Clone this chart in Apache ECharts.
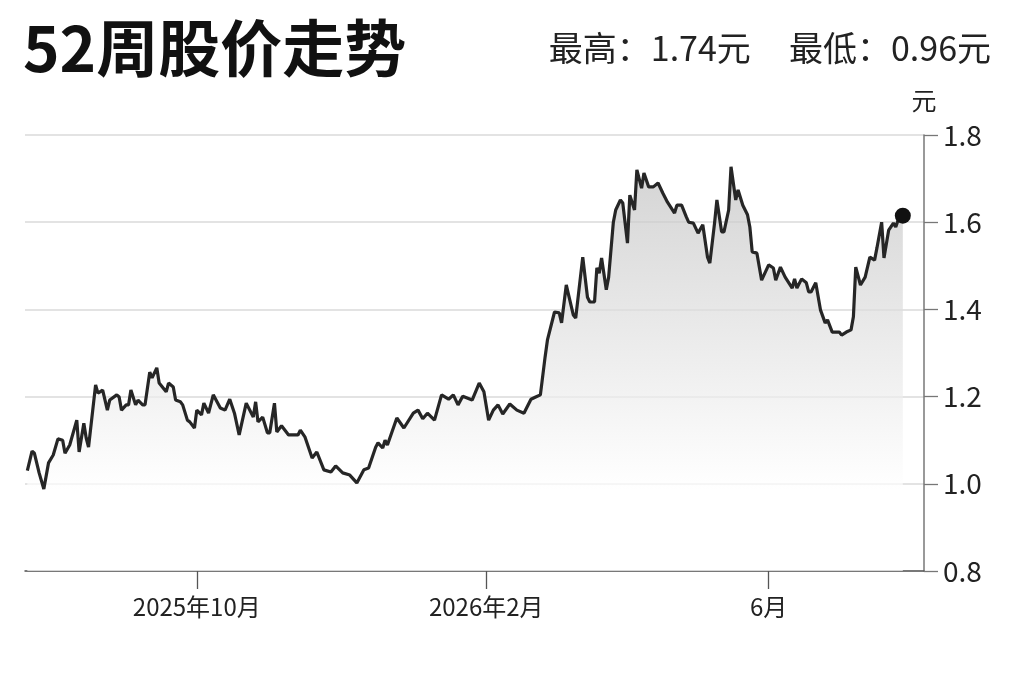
<!DOCTYPE html>
<html>
<head>
<meta charset="utf-8">
<script src="https://cdn.jsdelivr.net/npm/echarts@6/dist/echarts.min.js"></script>
<style>
html,body{margin:0;padding:0;background:#fff;}
#chart{width:1023px;height:682px;}
</style>
</head>
<body>
<div id="chart"></div>
<script>
const titleText = '52周股价走势';
const statsText = '最高：1.74元     最低：0.96元';
const yUnit = '元';
const yTicks = [0.8, 1.0, 1.2, 1.4, 1.6, 1.8];
const xTickDates = ['2025-10-01', '2026-02-01', '2026-06-01'];
const xTickLabels = ['2025年10月', '2026年2月', '6月'];
const xRange = ['2025-07-20', '2026-08-06'];

const dates = [
'2025-07-21','2025-07-23','2025-07-24','2025-07-26','2025-07-28','2025-07-30','2025-08-01','2025-08-03','2025-08-05','2025-08-06',
'2025-08-08','2025-08-11','2025-08-12','2025-08-14','2025-08-15','2025-08-16','2025-08-19','2025-08-20','2025-08-22','2025-08-24',
'2025-08-25','2025-08-28','2025-08-29','2025-08-30','2025-09-01','2025-09-02','2025-09-03','2025-09-05','2025-09-06','2025-09-08',
'2025-09-09','2025-09-11','2025-09-12','2025-09-14','2025-09-15','2025-09-18','2025-09-19','2025-09-21','2025-09-22','2025-09-24',
'2025-09-25','2025-09-27','2025-09-28','2025-09-30','2025-10-01','2025-10-03','2025-10-04','2025-10-06','2025-10-08','2025-10-11',
'2025-10-13','2025-10-15','2025-10-17','2025-10-19','2025-10-22','2025-10-25','2025-10-26','2025-10-27','2025-10-29','2025-10-31',
'2025-11-01','2025-11-03','2025-11-04','2025-11-06','2025-11-09','2025-11-13','2025-11-14','2025-11-16','2025-11-19','2025-11-21',
'2025-11-24','2025-11-27','2025-11-29','2025-12-02','2025-12-05','2025-12-08','2025-12-11','2025-12-13','2025-12-16','2025-12-17',
'2025-12-19','2025-12-20','2025-12-21','2025-12-25','2025-12-28','2026-01-01','2026-01-03','2026-01-05','2026-01-07','2026-01-10',
'2026-01-13','2026-01-16','2026-01-18','2026-01-20','2026-01-22','2026-01-26','2026-01-29','2026-01-31','2026-02-02','2026-02-04',
'2026-02-06','2026-02-08','2026-02-11','2026-02-14','2026-02-17','2026-02-20','2026-02-22','2026-02-24','2026-02-26','2026-02-27',
'2026-03-02','2026-03-04','2026-03-05','2026-03-07','2026-03-08','2026-03-10','2026-03-11','2026-03-14','2026-03-16','2026-03-17',
'2026-03-19','2026-03-20','2026-03-21','2026-03-22','2026-03-24','2026-03-25','2026-03-27','2026-03-28','2026-03-30','2026-03-31',
'2026-04-02','2026-04-03','2026-04-05','2026-04-06','2026-04-08','2026-04-09','2026-04-11','2026-04-13','2026-04-15','2026-04-17',
'2026-04-19','2026-04-22','2026-04-23','2026-04-25','2026-04-27','2026-04-28','2026-04-30','2026-05-02','2026-05-04','2026-05-06',
'2026-05-07','2026-05-09','2026-05-10','2026-05-12','2026-05-13','2026-05-15','2026-05-16','2026-05-18','2026-05-19','2026-05-21',
'2026-05-23','2026-05-24','2026-05-25','2026-05-27','2026-05-29','2026-06-01','2026-06-03','2026-06-04','2026-06-06','2026-06-08',
'2026-06-11','2026-06-12','2026-06-13','2026-06-15','2026-06-17','2026-06-18','2026-06-19','2026-06-21','2026-06-23','2026-06-25',
'2026-06-26','2026-06-28','2026-07-01','2026-07-02','2026-07-04','2026-07-06','2026-07-07','2026-07-08','2026-07-10','2026-07-12',
'2026-07-14','2026-07-16','2026-07-17','2026-07-19','2026-07-20','2026-07-22','2026-07-24','2026-07-25','2026-07-26','2026-07-28'
];

const prices = [
1.03,1.075,1.07,1.025,0.988,1.048,1.066,1.103,1.10,1.07,
1.089,1.146,1.073,1.139,1.105,1.084,1.227,1.208,1.215,1.169,
1.192,1.204,1.199,1.169,1.181,1.181,1.215,1.181,1.192,1.181,
1.181,1.256,1.243,1.266,1.231,1.211,1.231,1.222,1.192,1.188,
1.181,1.146,1.142,1.128,1.169,1.158,1.185,1.162,1.204,1.174,
1.169,1.194,1.162,1.112,1.185,1.153,1.188,1.142,1.153,1.117,
1.117,1.185,1.119,1.133,1.112,1.112,1.123,1.107,1.059,1.073,
1.032,1.027,1.041,1.025,1.020,1.002,1.032,1.036,1.084,1.094,
1.082,1.100,1.089,1.151,1.128,1.162,1.169,1.149,1.162,1.146,
1.204,1.194,1.204,1.181,1.201,1.192,1.231,1.211,1.146,1.169,
1.181,1.160,1.183,1.169,1.162,1.194,1.199,1.204,1.291,1.330,
1.394,1.392,1.369,1.456,1.433,1.387,1.380,1.520,1.428,1.417,
1.417,1.495,1.483,1.518,1.445,1.474,1.600,1.628,1.651,1.644,
1.552,1.662,1.628,1.720,1.678,1.713,1.681,1.681,1.690,1.667,
1.646,1.621,1.639,1.639,1.612,1.600,1.598,1.575,1.594,1.520,
1.506,1.598,1.651,1.578,1.578,1.628,1.727,1.651,1.674,1.639,
1.617,1.589,1.532,1.529,1.467,1.502,1.495,1.467,1.497,1.474,
1.449,1.470,1.449,1.470,1.461,1.440,1.440,1.461,1.399,1.369,
1.376,1.348,1.348,1.341,1.348,1.353,1.383,1.497,1.456,1.474,
1.520,1.513,1.541,1.600,1.518,1.582,1.598,1.589,1.605,1.615
];

const chart = echarts.init(document.getElementById('chart'), null, {renderer: 'canvas'});
const FONT = '"Noto Sans CJK SC", "Noto Sans", sans-serif';
const ts = d => +echarts.time.parse(d);
const tickTs = xTickDates.map(ts);
const lineData = dates.map((d, i) => [ts(d), prices[i]]);
const last = lineData[lineData.length - 1];

chart.setOption({
  backgroundColor: '#ffffff',
  animation: false,
  textStyle: {fontFamily: FONT},
  title: [
    {text: titleText, left: 18, top: 12,
     textStyle: {fontSize: 62, fontWeight: 'bold', color: '#111', fontFamily: FONT}},
    {text: statsText, right: 27, top: 26,
     textStyle: {fontSize: 34, fontWeight: 'normal', color: '#222', fontFamily: FONT}}
  ],
  grid: {left: 25, right: 99, top: 135, bottom: 111, containLabel: false},
  xAxis: {
    type: 'value',
    min: ts(xRange[0]),
    max: ts(xRange[1]),
    axisLine: {show: true, onZero: false, lineStyle: {color: '#555', width: 1.5}},
    axisTick: {show: true, customValues: tickTs, length: 18, lineStyle: {color: '#555', width: 1.3}},
    axisLabel: {
      customValues: tickTs,
      color: '#222', fontSize: 24, margin: 24, fontFamily: FONT,
      formatter: function (v) {
        const idx = tickTs.indexOf(v);
        return idx >= 0 ? xTickLabels[idx] : '';
      }
    },
    splitLine: {show: false}
  },
  yAxis: {
    type: 'value',
    position: 'right',
    min: yTicks[0],
    max: yTicks[yTicks.length - 1],
    interval: 0.2,
    name: yUnit,
    nameLocation: 'end',
    nameGap: 22,
    nameTextStyle: {fontSize: 25, color: '#222', fontFamily: FONT},
    axisLine: {show: true, lineStyle: {color: '#777', width: 1.5}},
    axisTick: {show: true, inside: false, length: 14, lineStyle: {color: '#777', width: 1.3}},
    axisLabel: {color: '#222', fontSize: 28, margin: 19, fontFamily: FONT,
      formatter: v => v.toFixed(1)},
    splitLine: {show: true, lineStyle: {color: '#e3e3e3', width: 2}}
  },
  series: [
    {
      type: 'line',
      data: lineData,
      showSymbol: false,
      symbol: 'none',
      lineStyle: {color: '#262626', width: 3.2},
      areaStyle: {
        color: new echarts.graphic.LinearGradient(0, 0, 0, 1, [
          {offset: 0, color: '#c2c2c2'},
          {offset: 0.8, color: '#ffffff'},
          {offset: 1, color: '#ffffff'}
        ])
      },
      z: 3
    },
    {
      type: 'scatter',
      data: [last],
      symbolSize: 16,
      itemStyle: {color: '#111', opacity: 1},
      z: 5
    }
  ]
});
</script>
</body>
</html>
